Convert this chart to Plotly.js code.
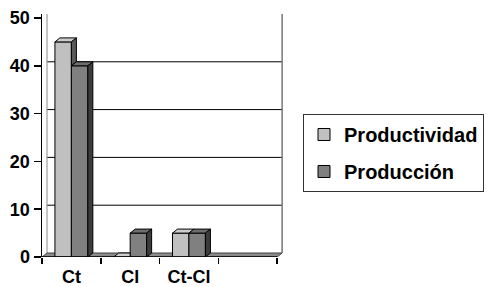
<!DOCTYPE html>
<html>
<head>
<meta charset="utf-8">
<script src="https://cdn.plot.ly/plotly-3.0.1.min.js"></script>
<style>html,body{margin:0;padding:0;background:#fff;}#chart{width:487px;height:287px;}</style>
</head>
<body>
<div id="chart"></div>
<script>
// ---- data ----
const categories = ['Ct', 'Cl', 'Ct-Cl', ''];
const productividad = [45, 0, 5];
const produccion = [40, 5, 5];
const yTicks = [0, 10, 20, 30, 40, 50];
const seriesNames = ['Productividad', 'Producción'];

// ---- style ----
const FONT = 'Liberation Sans, Arial, sans-serif';
const lightFront = '#c0c0c0', lightTop = '#cccccc', lightSide = '#5a5a5a';
const darkFront = '#808080', darkTop = '#6e6e6e', darkSide = '#3c3c3c';
const BW = 0.28;          // bar width in category units
const DX = 0.085, DY = 0.84; // depth offsets (x units, y units)

const xIdx = categories.map((_, i) => i);
const xs1 = productividad.map((_, i) => i);
const xs2 = produccion.map((_, i) => i);

const traces = [
  {type: 'bar', name: seriesNames[0], x: xs1, y: productividad,
   marker: {color: lightFront, line: {color: '#000', width: 1}},
   legendgroup: 'a', hoverinfo: 'skip'},
  {type: 'bar', name: seriesNames[1], x: xs2, y: produccion,
   marker: {color: darkFront, line: {color: '#000', width: 1}},
   legendgroup: 'b', hoverinfo: 'skip'}
];

function poly(pts) {
  return 'M' + pts.map(p => p[0] + ',' + p[1]).join(' L') + ' Z';
}
const shapes = [];
const xMin = -0.5, xMax = categories.length - 0.5;

// back-wall gridlines (offset by depth)
yTicks.filter(t => t > 0 && t < 50).forEach(t => {
  shapes.push({type: 'line', xref: 'x', yref: 'y', layer: 'below',
    x0: xMin + DX, x1: xMax + DX, y0: t + DY, y1: t + DY,
    line: {color: '#000', width: 1}});
});
// back wall edges
shapes.push({type: 'line', xref: 'x', yref: 'y', layer: 'below',
  x0: xMin + DX, x1: xMin + DX, y0: DY, y1: 60, line: {color: '#888', width: 1}});
shapes.push({type: 'line', xref: 'x', yref: 'y', layer: 'below',
  x0: xMax + DX, x1: xMax + DX, y0: DY, y1: 60, line: {color: '#777', width: 1.5}});
// floor
shapes.push({type: 'path', xref: 'x', yref: 'y', layer: 'between',
  path: poly([[xMin, 0], [xMin + DX, DY], [xMax + DX, DY], [xMax, 0]]),
  fillcolor: '#8a8a8a', line: {color: '#444', width: 1}});

// 3D faces for bars
productividad.forEach((v, i) => {
  const vd = produccion[i];
  const xl = i - BW, xr = i;
  if (vd > v) {
    shapes.push({type: 'path', xref: 'x', yref: 'y', layer: 'above',
      path: poly([[xl, v], [xl + DX, v + DY], [xr, v + DY], [xr, v]]),
      fillcolor: lightTop, line: {color: '#000', width: 1}});
  } else {
    shapes.push({type: 'path', xref: 'x', yref: 'y', layer: 'above',
      path: poly([[xl, v], [xl + DX, v + DY], [xr + DX, v + DY], [xr, v]]),
      fillcolor: lightTop, line: {color: '#000', width: 1}});
  }
  if (vd < v) {
    shapes.push({type: 'path', xref: 'x', yref: 'y', layer: 'above',
      path: poly([[xr, v], [xr + DX, v + DY], [xr + DX, vd + DY], [xr, vd]]),
      fillcolor: lightSide, line: {color: '#000', width: 1}});
  }
});
produccion.forEach((v, i) => {
  const xl = i, xr = i + BW;
  shapes.push({type: 'path', xref: 'x', yref: 'y', layer: 'above',
    path: poly([[xl, v], [xl + DX, v + DY], [xr + DX, v + DY], [xr, v]]),
    fillcolor: darkTop, line: {color: '#000', width: 1}});
  shapes.push({type: 'path', xref: 'x', yref: 'y', layer: 'above',
    path: poly([[xr, v], [xr + DX, v + DY], [xr + DX, DY], [xr, 0]]),
    fillcolor: darkSide, line: {color: '#000', width: 1}});
});
// front x-axis line
shapes.push({type: 'line', xref: 'x', yref: 'y', layer: 'above',
  x0: xMin, x1: xMax, y0: 0, y1: 0, line: {color: '#000', width: 1.5}});

const boundaries = categories.map((_, i) => i - 0.5).concat([xMax]);

const layout = {
  width: 487, height: 287,
  margin: {l: 42, r: 204, t: 14, b: 30, pad: 0, autoexpand: false},
  paper_bgcolor: '#fff', plot_bgcolor: '#fff',
  barmode: 'group', bargap: 1 - 2 * BW, bargroupgap: 0,
  showlegend: true,
  legend: {x: 1.083, xanchor: 'left', y: 0.428, yanchor: 'middle',
    bordercolor: '#333', borderwidth: 1, bgcolor: '#fff',
    font: {family: FONT, size: 20, color: '#000', weight: 'bold'},
    traceorder: 'grouped', tracegroupgap: 8},
  xaxis: {
    type: 'linear', range: [xMin, xMax + DX + 0.015], fixedrange: true,
    tickmode: 'array', tickvals: xIdx, ticktext: categories,
    ticks: 'outside', ticklen: 3, tickcolor: 'rgba(0,0,0,0)',
    showline: false, showgrid: false, zeroline: false,
    tickfont: {family: FONT, size: 18, color: '#000', weight: 'bold'},
    minor: {tickmode: 'array', tickvals: boundaries, ticks: 'outside',
      ticklen: 6, tickwidth: 1.5, tickcolor: '#000', showgrid: false}
  },
  yaxis: {
    range: [0, 50.84], fixedrange: true,
    tickmode: 'array', tickvals: yTicks,
    ticks: 'outside', ticklen: 7, tickwidth: 1.5, tickcolor: '#000',
    showline: true, linecolor: '#000', linewidth: 1.5,
    showgrid: false, zeroline: false,
    tickfont: {family: FONT, size: 18, color: '#000', weight: 'bold'}
  },
  shapes: shapes
};

Plotly.newPlot('chart', traces, layout, {staticPlot: true, displayModeBar: false});
</script>
</body>
</html>
